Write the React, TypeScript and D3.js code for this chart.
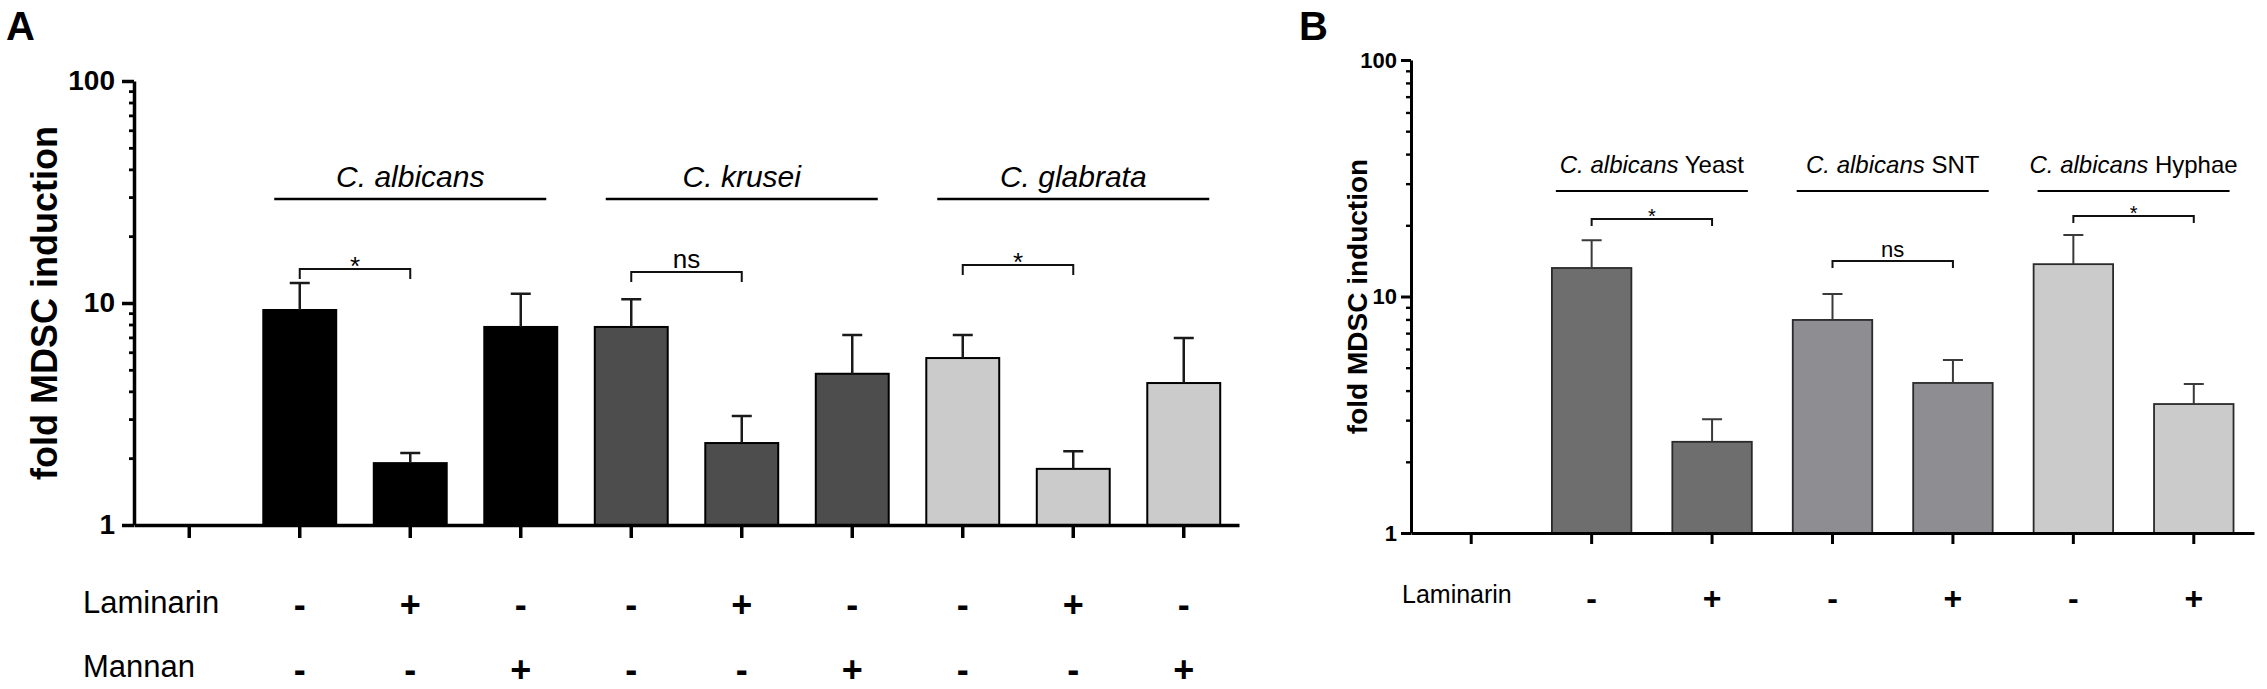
import React, { useEffect, useRef } from 'react';
import * as d3 from 'd3';

const FONT = '"Liberation Sans", Arial, Helvetica, sans-serif';

// ---- Panel A data ----
const categoriesA = ['none', 'Ca', 'Ca+Lam', 'Ca+Man', 'Ck', 'Ck+Lam', 'Ck+Man', 'Cg', 'Cg+Lam', 'Cg+Man'];
const meansA = [NaN, 9.3, 1.9, 7.8, 7.8, 2.34, 4.8, 5.65, 1.79, 4.36];
const errorsA = [NaN, 3.0, 0.21, 3.2, 2.6, 0.76, 2.37, 1.52, 0.36, 2.6];
const laminarinA = ['', '-', '+', '-', '-', '+', '-', '-', '+', '-'];
const mannanA = ['', '-', '-', '+', '-', '-', '+', '-', '-', '+'];
const groupsA = [
    { species: 'C. albicans', form: '', members: ['Ca', 'Ca+Lam', 'Ca+Man'], fill: '#000000' },
    { species: 'C. krusei', form: '', members: ['Ck', 'Ck+Lam', 'Ck+Man'], fill: '#4d4d4d' },
    { species: 'C. glabrata', form: '', members: ['Cg', 'Cg+Lam', 'Cg+Man'], fill: '#cbcbcb' }
];
const signifA = [
    { from: 'Ca', to: 'Ca+Lam', label: '*' },
    { from: 'Ck', to: 'Ck+Lam', label: 'ns' },
    { from: 'Cg', to: 'Cg+Lam', label: '*' }
];

// ---- Panel B data ----
const categoriesB = ['none', 'Y', 'Y+Lam', 'S', 'S+Lam', 'H', 'H+Lam'];
const meansB = [NaN, 13.2, 2.43, 7.96, 4.31, 13.7, 3.51];
const errorsB = [NaN, 4.1, 0.6, 2.29, 1.08, 4.5, 0.76];
const laminarinB = ['', '-', '+', '-', '+', '-', '+'];
const groupsB = [
    { species: 'C. albicans', form: 'Yeast', members: ['Y', 'Y+Lam'], fill: '#6e6e6e' },
    { species: 'C. albicans', form: 'SNT', members: ['S', 'S+Lam'], fill: '#8e8d92' },
    { species: 'C. albicans', form: 'Hyphae', members: ['H', 'H+Lam'], fill: '#cbcbcb' }
];
const signifB = [
    { from: 'Y', to: 'Y+Lam', label: '*' },
    { from: 'S', to: 'S+Lam', label: 'ns' },
    { from: 'H', to: 'H+Lam', label: '*' }
];

const yTicks = [1, 10, 100];
const yMinorTicks = [2, 3, 4, 5, 6, 7, 8, 9, 20, 30, 40, 50, 60, 70, 80, 90];

type Group = { species: string; form: string; members: string[]; fill: string };
type Sig = { from: string; to: string; label: string };

type Panel = {
    letter: string;
    letterX: number;
    categories: string[];
    means: number[];
    errors: number[];
    groups: Group[];
    signif: Sig[];
    rows: { name: string; signs: string[]; baseline: number; signBaseline: number }[];
    left: number;
    right: number;
    top: number;
    bottom: number;
    tickFont: number;
    tickPad: number;
    majorTick: number;
    axisWidth: number;
    titleX: number;
    titleFont: number;
    groupFont: number;
    groupBaseline: number;
    groupLineY: number;
    groupHalf: number;
    groupLineWidth: number;
    bracketY: number[];
    bracketLeg: number;
    starFont: number;
    nsFont: number;
    barStroke: string;
    barStrokeWidth: number;
    errColor: string;
    errWidth: number;
    rowFont: number;
    rowX: number;
    signFont: number;
};

function drawPanel(svg: d3.Selection<SVGSVGElement, unknown, null, undefined>, p: Panel) {
    const g = svg.append('g');
    const x = d3.scaleBand<string>().domain(p.categories).range([p.left, p.right]).paddingInner(0.34).paddingOuter(0.17);
    const y = d3.scaleLog().domain([1, 100]).range([p.bottom, p.top]);
    const cx = (c: string) => (x(c) as number) + x.bandwidth() / 2;

    const fillOf = new Map<string, string>();
    p.groups.forEach((gr) => gr.members.forEach((m) => fillOf.set(m, gr.fill)));

    const data = p.categories
        .map((c, i) => ({ c, mean: p.means[i], err: p.errors[i] }))
        .filter((d) => !isNaN(d.mean));

    // panel letter
    g.append('text')
        .attr('x', p.letterX)
        .attr('y', 40)
        .attr('font-size', 40)
        .attr('font-weight', 'bold')
        .text(p.letter);

    // bars
    g.append('g')
        .selectAll('rect')
        .data(data)
        .join('rect')
        .attr('x', (d) => x(d.c)!)
        .attr('width', x.bandwidth())
        .attr('y', (d) => y(d.mean))
        .attr('height', (d) => y(1) - y(d.mean))
        .attr('fill', (d) => fillOf.get(d.c)!)
        .attr('stroke', p.barStroke)
        .attr('stroke-width', p.barStrokeWidth);

    // error bars (upper only)
    g.append('g')
        .selectAll('path')
        .data(data)
        .join('path')
        .attr('d', (d) => {
            const xc = cx(d.c);
            const y0 = y(d.mean);
            const y1 = y(d.mean + d.err);
            return `M${xc},${y0}V${y1}M${xc - 10},${y1}H${xc + 10}`;
        })
        .attr('fill', 'none')
        .attr('stroke', p.errColor)
        .attr('stroke-width', p.errWidth);

    // x axis
    const xAxis = g
        .append('g')
        .attr('transform', `translate(0,${p.bottom})`)
        .call(d3.axisBottom(x).tickSize(p.majorTick + 1).tickSizeOuter(0).tickFormat(() => ''));
    xAxis.selectAll('path, line').attr('stroke', '#000').attr('stroke-width', p.axisWidth);

    // y axis minor ticks
    const yMinor = g
        .append('g')
        .attr('transform', `translate(${p.left},0)`)
        .call(d3.axisLeft(y).tickValues(yMinorTicks).tickSize(5).tickFormat(() => ''));
    yMinor.select('.domain').remove();
    yMinor.selectAll('line').attr('stroke', '#000').attr('stroke-width', p.axisWidth * 0.8);

    // y axis major
    const yAxis = g
        .append('g')
        .attr('transform', `translate(${p.left},0)`)
        .call(
            d3
                .axisLeft(y)
                .tickValues(yTicks)
                .tickSize(p.majorTick)
                .tickSizeOuter(0)
                .tickPadding(p.tickPad)
                .tickFormat(d3.format('d'))
        );
    yAxis.selectAll('path, line').attr('stroke', '#000').attr('stroke-width', p.axisWidth);
    yAxis
        .selectAll('text')
        .attr('font-family', FONT)
        .attr('font-size', p.tickFont)
        .attr('font-weight', 'bold')
        .attr('fill', '#000');

    // y axis title
    g.append('text')
        .attr('transform', `translate(${p.titleX},${(p.top + p.bottom) / 2}) rotate(-90)`)
        .attr('text-anchor', 'middle')
        .attr('font-size', p.titleFont)
        .attr('font-weight', 'bold')
        .text('fold MDSC induction');

    // group headers
    p.groups.forEach((gr) => {
        const centres = gr.members.map(cx);
        const mid = d3.mean(centres)!;
        const t = g
            .append('text')
            .attr('x', mid)
            .attr('y', p.groupBaseline)
            .attr('text-anchor', 'middle')
            .attr('font-size', p.groupFont);
        t.append('tspan').attr('font-style', 'italic').text(gr.species);
        if (gr.form) t.append('tspan').text(' ' + gr.form);
        g.append('line')
            .attr('x1', mid - p.groupHalf)
            .attr('x2', mid + p.groupHalf)
            .attr('y1', p.groupLineY)
            .attr('y2', p.groupLineY)
            .attr('stroke', '#000')
            .attr('stroke-width', p.groupLineWidth);
    });

    // significance brackets
    p.signif.forEach((s, i) => {
        const x1 = cx(s.from);
        const x2 = cx(s.to);
        const by = p.bracketY[i];
        g.append('path')
            .attr('d', `M${x1},${by + p.bracketLeg}V${by}H${x2}V${by + p.bracketLeg}`)
            .attr('fill', 'none')
            .attr('stroke', '#111')
            .attr('stroke-width', 2);
        const star = s.label === '*';
        g.append('text')
            .attr('x', (x1 + x2) / 2)
            .attr('y', star ? by + p.starFont * 0.22 : by - 4)
            .attr('text-anchor', 'middle')
            .attr('font-size', star ? p.starFont : p.nsFont)
            .text(s.label);
    });

    // treatment rows
    p.rows.forEach((r) => {
        g.append('text')
            .attr('x', p.rowX)
            .attr('y', r.baseline)
            .attr('font-size', p.rowFont)
            .text(r.name);
        g.append('g')
            .selectAll('text')
            .data(p.categories.map((c, i) => ({ c, s: r.signs[i] })).filter((d) => d.s))
            .join('text')
            .attr('x', (d) => cx(d.c))
            .attr('y', r.signBaseline)
            .attr('text-anchor', 'middle')
            .attr('font-size', p.signFont)
            .attr('font-weight', 'bold')
            .text((d) => d.s);
    });
}

const panelA: Panel = {
    letter: 'A',
    letterX: 6,
    categories: categoriesA,
    means: meansA,
    errors: errorsA,
    groups: groupsA,
    signif: signifA,
    rows: [
        { name: 'Laminarin', signs: laminarinA, baseline: 613, signBaseline: 617 },
        { name: 'Mannan', signs: mannanA, baseline: 677, signBaseline: 682 }
    ],
    left: 134,
    right: 1239,
    top: 81,
    bottom: 525,
    tickFont: 28,
    tickPad: 7,
    majorTick: 12,
    axisWidth: 3.5,
    titleX: 57,
    titleFont: 36,
    groupFont: 30,
    groupBaseline: 187,
    groupLineY: 199,
    groupHalf: 136,
    groupLineWidth: 2.5,
    bracketY: [269, 272, 265],
    bracketLeg: 10,
    starFont: 26,
    nsFont: 26,
    barStroke: '#000',
    barStrokeWidth: 2,
    errColor: '#1a1a1a',
    errWidth: 2.5,
    rowFont: 31,
    rowX: 83,
    signFont: 36
};

const panelB: Panel = {
    letter: 'B',
    letterX: 1299,
    categories: categoriesB,
    means: meansB,
    errors: errorsB,
    groups: groupsB,
    signif: signifB,
    rows: [{ name: 'Laminarin', signs: laminarinB, baseline: 603, signBaseline: 609 }],
    left: 1411,
    right: 2254,
    top: 60,
    bottom: 533,
    tickFont: 22,
    tickPad: 4,
    majorTick: 10,
    axisWidth: 3,
    titleX: 1367,
    titleFont: 28,
    groupFont: 24,
    groupBaseline: 173,
    groupLineY: 191,
    groupHalf: 96,
    groupLineWidth: 2,
    bracketY: [219, 261, 216],
    bracketLeg: 7,
    starFont: 20,
    nsFont: 22,
    barStroke: '#2a2a2a',
    barStrokeWidth: 1.8,
    errColor: '#3a3a3a',
    errWidth: 2,
    rowFont: 25,
    rowX: 1402,
    signFont: 32
};

export default function App() {
    const ref = useRef<SVGSVGElement>(null);

    useEffect(() => {
        if (!ref.current) return;
        const svg = d3.select(ref.current);
        svg.selectAll('*').remove();
        svg.append('rect').attr('width', 2267).attr('height', 689).attr('fill', '#fff');
        drawPanel(svg, panelA);
        drawPanel(svg, panelB);
    }, []);

    return (
        <svg
            ref={ref}
            width={2267}
            height={689}
            viewBox="0 0 2267 689"
            style={{ position: 'absolute', left: 0, top: 0, fontFamily: FONT, background: '#fff' }}
        />
    );
}
